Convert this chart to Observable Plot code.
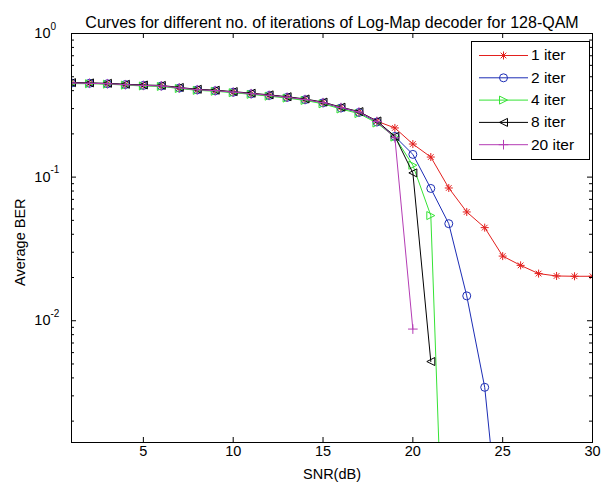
<!DOCTYPE html>
<html><head><meta charset="utf-8">
<script src="https://cdn.jsdelivr.net/npm/d3@7"></script>
<script src="https://cdn.jsdelivr.net/npm/@observablehq/plot@0.6"></script>
<style>html,body{margin:0;padding:0;background:#fff;}</style>
</head><body><div id="chart"></div>
<script>
const snr = [1,2,3,4,5,6,7,8,9,10,11,12,13,14,15,16,17,18,19,20,21,22,23,24,25,26,27,28,29,30];
const iter1 = [0.452,0.450,0.447,0.440,0.435,0.432,0.418,0.406,0.400,0.391,0.381,0.371,0.360,0.347,0.330,0.305,0.284,0.245,0.220,0.170,0.138,0.0840,0.0572,0.0445,0.0282,0.0243,0.0213,0.0205,0.0204,0.0204];
const iter2 = [0.452,0.450,0.447,0.441,0.435,0.431,0.417,0.405,0.399,0.390,0.380,0.370,0.359,0.346,0.329,0.303,0.282,0.242,0.192,0.144,0.0834,0.0474,0.0149,0.00344,0.0002];
const iter4 = [0.448,0.447,0.444,0.437,0.431,0.428,0.414,0.402,0.396,0.387,0.377,0.366,0.355,0.342,0.324,0.298,0.277,0.238,0.190,0.121,0.0540,0.000015];
const iter8 = [0.455,0.453,0.450,0.443,0.438,0.435,0.421,0.409,0.403,0.394,0.384,0.374,0.363,0.350,0.333,0.307,0.286,0.246,0.192,0.107,0.0052];
const iter20 = [0.452,0.450,0.447,0.440,0.435,0.432,0.418,0.406,0.400,0.391,0.381,0.371,0.360,0.347,0.330,0.305,0.284,0.244,0.188,0.00875];
const seriesNames = ["1 iter","2 iter","4 iter","8 iter","20 iter"];
const seriesColors = ["#e3201e","#1c2db5","#35e335","#000000","#b43cb4"];
const xTicks = [5,10,15,20,25,30];
const yMajor = [0.01,0.1,1];
const yExpLabels = ["-2","-1","0"];
const yMinor = [0.002,0.003,0.004,0.005,0.006,0.007,0.008,0.009,0.02,0.03,0.04,0.05,0.06,0.07,0.08,0.09,0.2,0.3,0.4,0.5,0.6,0.7,0.8,0.9];
const titleText = "Curves for different no. of iterations of Log-Map decoder for 128-QAM";
const xLabel = "SNR(dB)";
const yLabel = "Average BER";

// marker shapes (MATLAB style)
const symAsterisk = {draw(c, s){const r=Math.sqrt(s/Math.PI), d=r*0.7071; c.moveTo(-r,0);c.lineTo(r,0);c.moveTo(0,-r);c.lineTo(0,r);c.moveTo(-d,-d);c.lineTo(d,d);c.moveTo(-d,d);c.lineTo(d,-d);}};
const symCircle = {draw(c, s){const r=Math.sqrt(s/Math.PI); c.moveTo(r,0); c.arc(0,0,r,0,2*Math.PI); c.closePath();}};
const symTriRight = {draw(c, s){const r=Math.sqrt(s/Math.PI); c.moveTo(r,0);c.lineTo(-r,-r);c.lineTo(-r,r);c.closePath();}};
const symTriLeft = {draw(c, s){const r=Math.sqrt(s/Math.PI); c.moveTo(-r,0);c.lineTo(r,-r);c.lineTo(r,r);c.closePath();}};
const symPlus = {draw(c, s){const r=Math.sqrt(s/Math.PI)*1.2; c.moveTo(-r,0);c.lineTo(r,0);c.moveTo(0,-r);c.lineTo(0,r);}};
const seriesSymbols = [symAsterisk, symCircle, symTriRight, symTriLeft, symPlus];
const seriesValues = [iter1, iter2, iter4, iter8, iter20];

const font = "Liberation Sans, Arial, Helvetica, sans-serif";

const seriesMarks = seriesValues.flatMap((vals, i) => {
  const data = vals.map((v, j) => ({x: snr[j], y: v}));
  return [
    Plot.line(data, {x: "x", y: "y", stroke: seriesColors[i], strokeWidth: 1, clip: true}),
    Plot.dot(data, {x: "x", y: "y", stroke: seriesColors[i], fill: "none", strokeWidth: 1, r: 4, symbol: seriesSymbols[i], clip: true})
  ];
});

function legendMark(index, scales, values, dims) {
  const right = dims.width - dims.marginRight;
  const top = dims.marginTop;
  const bx = right - 121, by = top + 8, bw = 118, bh = 118;
  const g = d3.create("svg:g");
  g.append("rect").attr("x", bx + 0.5).attr("y", by + 0.5).attr("width", bw).attr("height", bh)
    .attr("fill", "white").attr("stroke", "black");
  seriesNames.forEach((name, i) => {
    const cy = by + 14 + i * 22.3;
    g.append("line").attr("x1", bx + 8).attr("x2", bx + 57).attr("y1", cy + 0.5).attr("y2", cy + 0.5)
      .attr("stroke", seriesColors[i]).attr("stroke-width", 1);
    g.append("path").attr("d", d3.symbol(seriesSymbols[i], 16 * Math.PI)())
      .attr("transform", `translate(${bx + 32.5},${cy + 0.5})`)
      .attr("fill", "none").attr("stroke", seriesColors[i]).attr("stroke-width", 1);
    g.append("text").attr("x", bx + 60).attr("y", cy).attr("dy", "0.35em")
      .attr("text-anchor", "start")
      .attr("font-size", 15.5).attr("font-family", font).attr("fill", "black").text(name);
  });
  return g.node();
}

const chart = Plot.plot({
  width: 612,
  height: 489,
  marginLeft: 71,
  marginRight: 20,
  marginTop: 33,
  marginBottom: 47,
  style: {fontFamily: font, background: "white", color: "black"},
  x: {domain: [1, 30], axis: null},
  y: {type: "log", domain: [0.00142, 1], axis: null},
  marks: [
    ...seriesMarks,
    Plot.frame({stroke: "black", strokeWidth: 1}),
    Plot.tickX(xTicks, {x: d => d, insetTop: 404, stroke: "black"}),
    Plot.tickX(xTicks, {x: d => d, insetBottom: 404, stroke: "black"}),
    Plot.tickY(yMajor, {y: d => d, insetRight: 516, stroke: "black"}),
    Plot.tickY(yMajor, {y: d => d, insetLeft: 516, stroke: "black"}),
    Plot.tickY(yMinor, {y: d => d, insetRight: 518, stroke: "black"}),
    Plot.tickY(yMinor, {y: d => d, insetLeft: 518, stroke: "black"}),
    Plot.text(xTicks, {x: d => d, frameAnchor: "bottom", dy: 13, text: d => String(d), fontSize: 14.5, fill: "black"}),
    Plot.text(yMajor, {y: d => d, frameAnchor: "left", dx: -21, text: () => "10", textAnchor: "end", fontSize: 14.5, fill: "black"}),
    Plot.text(yMajor, {y: d => d, frameAnchor: "left", dx: -21, dy: -7, text: (d, i) => yExpLabels[i], textAnchor: "start", fontSize: 10, fill: "black"}),
    Plot.text([titleText], {frameAnchor: "top", dy: -17, text: d => d, fontSize: 16, fill: "black"}),
    Plot.text([xLabel], {frameAnchor: "bottom", dy: 36, text: d => d, fontSize: 14.5, fill: "black"}),
    Plot.text([yLabel], {frameAnchor: "left", dx: -51, dy: 48, rotate: -90, text: d => d, fontSize: 14.5, fill: "black"}),
    legendMark
  ]
});
document.getElementById("chart").appendChild(chart);
</script>
</body></html>
